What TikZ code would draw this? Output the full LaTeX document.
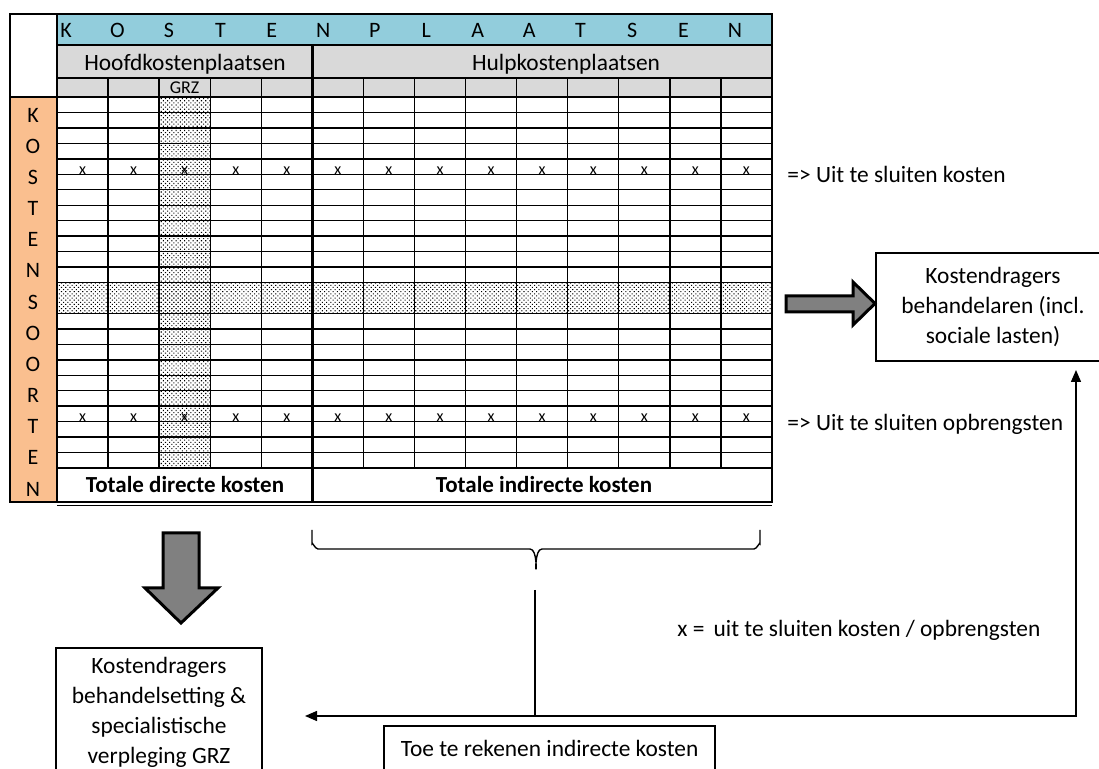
\documentclass[tikz,border=0pt]{standalone}
\usepackage{fontspec}
\setmainfont{Carlito}
\usetikzlibrary{arrows.meta,patterns.meta,positioning}
\definecolor{kopblauw}{RGB}{146,205,220}
\definecolor{kostoranje}{RGB}{250,191,143}
\definecolor{kopgrijs}{RGB}{217,217,217}
\definecolor{pijlgrijs}{RGB}{128,128,128}
\tikzset{
  grid line/.style={line width=0.7pt},
  frame line/.style={line width=1.3pt},
  dot fill/.style={pattern={Dots[distance=1.5pt,radius=0.38pt,angle=45]},pattern color=black},
  letter/.style={font=\fontsize{11}{13}\selectfont,inner sep=0pt},
  label text/.style={font=\fontsize{11.7}{14}\selectfont,inner sep=0pt},
  total text/.style={font=\fontsize{11.5}{14}\selectfont\bfseries,inner sep=0pt,anchor=base},
  xmark/.style={font=\fontsize{8}{9}\selectfont,inner sep=0pt,anchor=base},
  cost box/.style={draw,line width=0.7pt,align=center,font=\fontsize{11.7}{15}\selectfont},
  block arrow/.style={fill=pijlgrijs,draw,line width=1.5pt,line join=miter},
  flow/.style={line width=0.7pt},
}
\begin{document}
\begin{tikzpicture}[x=0.5pt,y=-0.5pt]
\useasboundingbox (0,0) rectangle (1099,769);
% kleurvlakken
\fill[kopblauw] (57,14) rectangle (772,45);
\fill[kopgrijs] (57,45) rectangle (772,97);
\fill[kostoranje] (10,97) rectangle (57,502);
\fill[dot fill] (159.1,97) rectangle (210.2,468);
\fill[dot fill] (57,282.5) rectangle (772,313.4);
% rijen
\foreach \r in {0,...,23}{
  \ifnum\r=13\else
    \draw[grid line] (57,{97+\r*15.46}) -- (772,{97+\r*15.46});
  \fi
}
% kolommen
\foreach \c in {1,...,13}{
  \ifnum\c=5\else
    \draw[grid line] ({57+\c*51.07},78) -- ({57+\c*51.07},468);
  \fi
}
\draw[grid line] (57,78) -- (772,78);
\draw[frame line] (57,45) -- (772,45);
\draw[frame line] (10,97) -- (57,97);
\draw[frame line] (57,14) -- (57,502);
\draw[frame line] (312.4,45) -- (312.4,502);
\draw[frame line] (57,468) -- (772,468);
\draw[frame line] (10,14) rectangle (772,502);
\draw[grid line] (57,505.5) -- (772,505.5);
% teksten in de tabel
\foreach \l [count=\i from 0] in {K,O,S,T,E,N,P,L,A,A,T,S,E,N}
  \node[letter,anchor=base] (kop-\i) at ({66+51.46*\i},38) {\l};
\foreach \l [count=\i from 0] in {K,O,S,T,E,N,S,O,O,R,T,E,N}
  \node[letter] (soort-\i) at (33,{115+31.17*\i}) {\l};
\node[label text,anchor=base] (hoofd) at (185,71) {Hoofdkostenplaatsen};
\node[label text,anchor=base] (hulp) at (566,71) {Hulpkostenplaatsen};
\node[font=\fontsize{9}{10}\selectfont,inner sep=0pt,anchor=base] (grz) at (184.6,94) {GRZ};
\foreach \c in {0,...,13}{
  \node[xmark] (xtop-\c) at ({57+(\c+0.5)*51.07},175) {x};
  \node[xmark] (xbot-\c) at ({57+(\c+0.5)*51.07},422) {x};
}
\node[total text] (tot-dir) at (185,493) {Totale directe kosten};
\node[total text] (tot-ind) at (544,493) {Totale indirecte kosten};
% toelichting rechts
\node[label text,anchor=base west] (uit-kost) at (787,183) {=> Uit te sluiten kosten};
\node[label text,anchor=base west] (uit-opbr) at (787,431) {=> Uit te sluiten opbrengsten};
\node[label text,anchor=base west] (legenda) at (677,637) {x =\, uit te sluiten kosten / opbrengsten};
% kostendragers
\node[cost box,minimum width=117pt,minimum height=54pt] (behandelaren) at (993,307)
  {Kostendragers\\behandelaren (incl.\\sociale lasten)};
\node[cost box,minimum width=103pt,minimum height=64pt] (setting) at (159,712)
  {Kostendragers\\behandelsetting \&\\specialistische\\verpleging GRZ};
\node[cost box,minimum width=165.5pt,minimum height=22pt] (toerekenen) at (549.5,748)
  {Toe te rekenen indirecte kosten};
% blokpijlen
\draw[block arrow] (786,296) -- (853,296) -- (853,282) -- (875,303.5) -- (853,325)
  -- (853,312) -- (786,312) -- cycle;
\draw[block arrow] (163,533) -- (199,533) -- (199,588) -- (218,588) -- (181,623)
  -- (145,588) -- (163,588) -- cycle;
% accolade en verbindingen
\coordinate (brace-l) at (312,530);
\coordinate (brace-r) at (760,530);
\coordinate (brace-tip) at (536,568);
\draw[flow] (brace-l) -- ++(0,14) to[out=90,in=180] ++(6,5) -- (530,549)
  to[out=0,in=-90] (brace-tip) to[out=-90,in=180] (542,549) -- (754,549)
  to[out=0,in=90] ++(6,-5) -- (brace-r);
\coordinate (feed-top) at (535,590);
\coordinate (split) at (535,716);
\coordinate (left-tip) at (305,716);
\coordinate (right-tip) at (1076,370);
\draw[flow] (feed-top) -- (split);
\draw[flow,-{Triangle[length=6pt,width=5pt]}] (split) -- (left-tip);
\draw[flow,-{Triangle[length=6pt,width=5pt]}] (split) -| (right-tip);
\end{tikzpicture}
\end{document}
